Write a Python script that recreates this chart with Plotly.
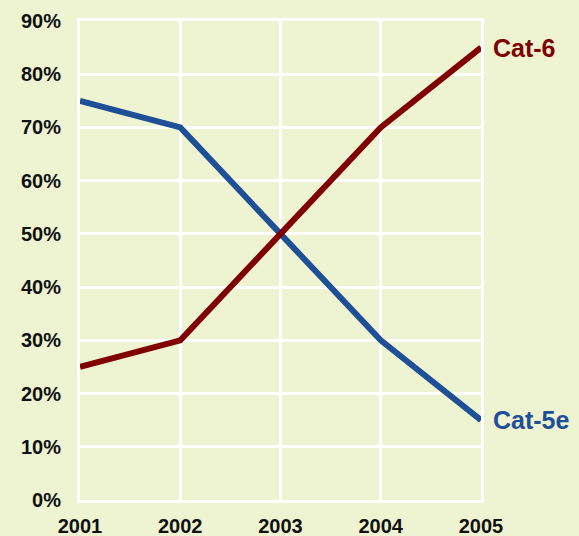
import plotly.graph_objects as go

years = [2001, 2002, 2003, 2004, 2005]
cat5e = [75, 70, 50, 30, 15]
cat6 = [25, 30, 50, 70, 85]
y_ticks = [0, 10, 20, 30, 40, 50, 60, 70, 80, 90]
y_labels = [f"{v}%" for v in y_ticks]
x_labels = [str(y) for y in years]

bg = "#eef3d1"
red = "#800000"
blue = "#1f4f96"
font = dict(family="Liberation Sans, Arial, sans-serif", size=20, color="#111111", weight="bold")

fig = go.Figure()
fig.add_trace(go.Scatter(x=years, y=cat5e, mode="lines", line=dict(color=blue, width=6), name="Cat-5e"))
fig.add_trace(go.Scatter(x=years, y=cat6, mode="lines", line=dict(color=red, width=6), name="Cat-6"))

fig.add_annotation(x=years[-1], y=cat6[-1], text="Cat-6", showarrow=False, xanchor="left",
                   xshift=10, font=dict(family=font["family"], size=25, color=red, weight="bold"))
fig.add_annotation(x=years[-1], y=cat5e[-1], text="Cat-5e", showarrow=False, xanchor="left",
                   xshift=10, font=dict(family=font["family"], size=25, color=blue, weight="bold"))

fig.update_layout(
    width=579, height=536,
    margin=dict(l=80, r=98, t=21, b=36, autoexpand=False),
    paper_bgcolor=bg, plot_bgcolor=bg,
    showlegend=False,
    font=font,
)
fig.update_xaxes(range=[2001, 2005], tickvals=years, ticktext=x_labels, automargin=False,
                 showgrid=True, gridcolor="white", gridwidth=3,
                 showline=True, linecolor="white", linewidth=3, mirror=True,
                 ticks="outside", ticklen=6, tickcolor=bg, zeroline=False, tickfont=font)
fig.update_yaxes(range=[0, 90], tickvals=y_ticks, ticktext=y_labels, automargin=False,
                 showgrid=True, gridcolor="white", gridwidth=3,
                 showline=True, linecolor="white", linewidth=3, mirror=True,
                 ticks="outside", ticklen=12, tickcolor=bg, zeroline=False, tickfont=font)

fig.write_html("out.html", config={"displayModeBar": False},
               post_script="document.body.style.margin='0';document.body.style.background='%s';" % bg)
